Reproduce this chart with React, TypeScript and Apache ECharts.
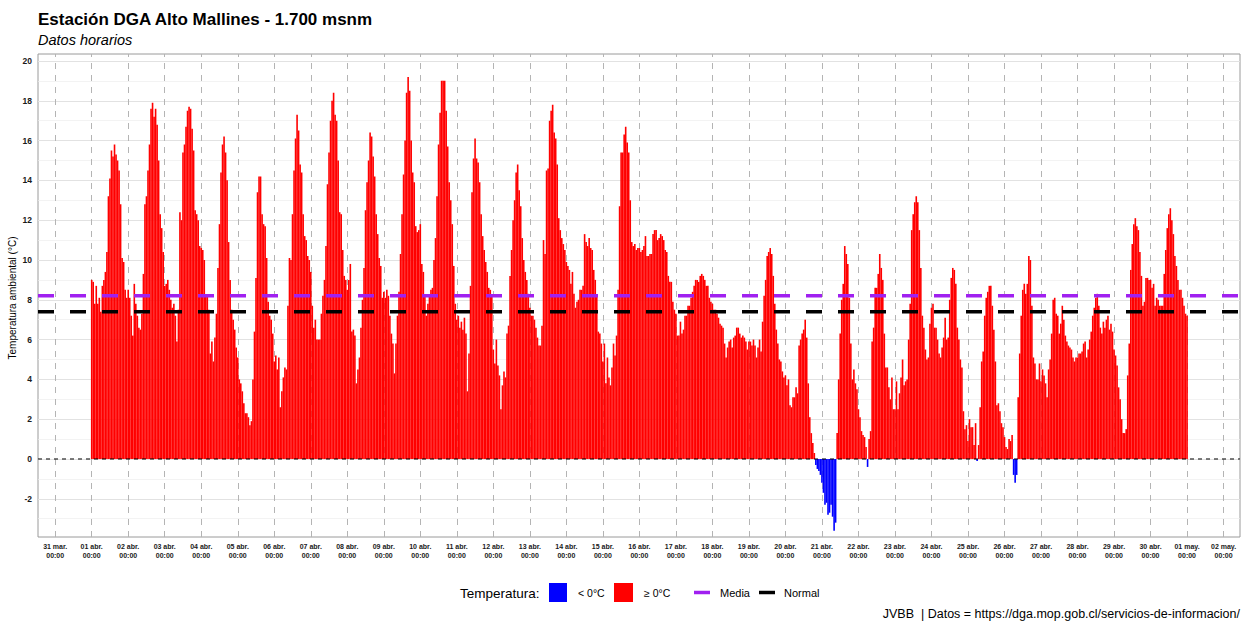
import React, { useEffect, useRef } from "react";
import * as echarts from "echarts";

// Hourly temperature (°C), one array per day of April
const day01 = [9.0, 8.9, 7.8, 8.7, 7.8, 8.1, 7.4, 8.7, 9.0, 9.4, 10.4, 13.2, 14.1, 15.5, 15.2, 15.8, 15.3, 15.0, 14.5, 12.8, 10.1, 9.9, 8.5, 8.1];
const day02 = [8.5, 8.1, 7.2, 6.2, 8.8, 7.8, 7.2, 6.6, 6.5, 7.3, 9.3, 12.8, 13.2, 14.5, 15.8, 17.6, 17.9, 17.2, 17.6, 16.8, 15.0, 12.3, 11.6, 10.4];
const day03 = [8.7, 8.8, 9.0, 8.5, 8.0, 7.6, 7.8, 7.2, 5.9, 7.5, 12.4, 12.0, 15.4, 15.8, 16.7, 17.5, 17.7, 17.6, 16.6, 15.5, 12.5, 12.3, 12.0, 10.7];
const day04 = [10.6, 10.5, 10.0, 8.2, 8.2, 7.5, 5.3, 5.9, 4.9, 6.1, 7.3, 9.6, 11.8, 14.4, 15.8, 16.2, 15.4, 14.0, 10.9, 9.0, 7.5, 7.0, 6.5, 5.6];
const day05 = [5.1, 4.0, 3.8, 3.4, 2.8, 2.3, 2.3, 2.1, 1.7, 1.9, 4.0, 6.4, 9.1, 13.4, 14.2, 14.2, 12.3, 11.8, 11.7, 10.1, 7.9, 7.2, 7.0, 6.3];
const day06 = [4.9, 5.2, 4.5, 5.1, 2.6, 3.4, 4.1, 4.6, 4.5, 7.7, 10.1, 10.0, 12.3, 14.5, 16.1, 17.3, 16.5, 14.8, 14.4, 12.3, 11.2, 11.0, 10.2, 10.0];
const day07 = [9.4, 7.7, 6.6, 7.0, 6.0, 6.0, 6.0, 7.3, 8.2, 9.0, 10.7, 13.8, 15.4, 17.0, 18.0, 18.4, 17.3, 17.0, 15.0, 12.4, 12.3, 10.5, 9.2, 9.0];
const day08 = [8.5, 9.0, 9.8, 6.4, 6.5, 6.2, 3.8, 4.5, 5.1, 6.6, 8.0, 9.6, 12.5, 13.9, 15.0, 16.4, 16.2, 15.2, 14.2, 12.3, 11.3, 10.1, 9.7, 8.1];
const day09 = [8.4, 8.1, 8.5, 8.2, 7.2, 6.3, 5.8, 4.3, 5.8, 7.2, 8.4, 10.3, 12.3, 14.3, 16.0, 18.4, 19.2, 18.5, 16.0, 14.4, 13.9, 11.7, 11.4, 11.5];
const day10 = [11.8, 9.8, 9.4, 8.2, 7.2, 7.8, 8.2, 8.5, 8.6, 10.0, 11.1, 13.2, 15.8, 17.4, 19.0, 19.0, 19.0, 17.5, 15.7, 13.9, 13.0, 11.8, 9.7, 7.8];
const day11 = [7.0, 7.2, 6.6, 6.9, 6.5, 7.1, 6.3, 3.4, 5.3, 8.7, 13.4, 15.1, 16.1, 15.1, 14.9, 13.9, 12.3, 11.2, 10.5, 9.9, 9.4, 8.6, 8.5, 8.2];
const day12 = [5.5, 4.8, 6.0, 4.7, 4.2, 2.5, 3.7, 4.4, 4.1, 6.3, 6.7, 9.2, 10.5, 12.0, 13.0, 14.4, 14.8, 13.5, 12.7, 11.1, 10.0, 9.4, 9.0, 8.3];
const day13 = [7.6, 7.2, 7.2, 7.0, 6.6, 6.1, 5.7, 5.7, 6.7, 11.0, 10.3, 14.5, 14.6, 17.0, 17.5, 17.8, 16.4, 16.1, 14.8, 12.1, 11.5, 11.1, 10.8, 10.5];
const day14 = [9.9, 9.7, 9.5, 8.8, 9.4, 8.3, 7.6, 7.9, 8.0, 8.5, 8.5, 8.7, 11.3, 10.9, 10.7, 11.1, 10.6, 10.5, 9.5, 9.0, 8.2, 6.4, 6.3, 5.8];
const day15 = [4.9, 5.8, 3.8, 5.1, 4.1, 3.7, 4.6, 5.8, 5.2, 6.2, 8.5, 12.7, 15.4, 15.4, 16.3, 16.7, 15.9, 15.4, 13.0, 10.9, 10.7, 10.8, 10.5, 10.6];
const day16 = [10.6, 10.4, 10.5, 10.7, 11.2, 10.2, 10.2, 10.3, 10.3, 11.3, 11.5, 11.5, 11.0, 11.1, 11.3, 11.2, 11.0, 10.5, 10.4, 9.2, 8.9, 8.9, 7.9, 7.5];
const day17 = [7.3, 6.2, 6.2, 6.9, 6.3, 6.5, 7.2, 7.2, 7.7, 7.7, 8.1, 8.4, 8.7, 9.0, 9.0, 8.9, 9.2, 9.3, 9.2, 9.0, 8.7, 8.7, 8.1, 7.9];
const day18 = [7.8, 7.5, 7.5, 7.3, 7.1, 6.8, 6.7, 6.6, 5.8, 5.1, 5.6, 5.9, 6.0, 5.6, 6.1, 6.2, 6.6, 6.6, 6.3, 6.1, 6.2, 6.1, 5.9, 5.5];
const day19 = [5.9, 5.9, 5.7, 6.0, 5.7, 5.1, 5.6, 6.0, 5.4, 6.9, 8.2, 9.0, 10.2, 10.4, 10.6, 10.3, 9.2, 7.8, 6.5, 5.8, 5.0, 4.9, 4.4, 4.1];
const day20 = [4.2, 3.7, 4.0, 2.7, 2.6, 3.1, 3.1, 3.6, 3.3, 5.7, 6.0, 6.3, 6.5, 7.0, 6.1, 3.8, 2.1, 1.3, 0.8, 0.3, -0.3, -0.5, -0.6, -0.8];
const day21 = [-1.2, -1.7, -2.3, -2.2, -2.8, -2.7, -2.3, -2.9, -3.6, -3.2, 1.3, 4.0, 6.3, 8.0, 8.8, 10.7, 10.3, 9.8, 8.1, 5.8, 4.0, 4.5, 3.8, 3.5];
const day22 = [2.5, 2.1, 1.4, 1.2, 1.1, 0.6, -0.4, 1.0, 1.4, 5.9, 6.6, 8.6, 8.6, 9.3, 10.3, 9.6, 9.0, 6.3, 4.6, 4.6, 3.6, 3.0, 4.1, 2.5];
const day23 = [2.5, 3.9, 2.5, 3.3, 4.1, 5.0, 3.7, 3.9, 4.0, 6.0, 7.8, 11.5, 12.3, 12.9, 13.2, 12.9, 11.5, 9.6, 7.2, 6.6, 5.5, 5.0, 5.1, 6.8];
const day24 = [7.6, 7.8, 6.6, 6.6, 6.0, 5.3, 5.1, 5.6, 6.1, 7.1, 6.0, 6.1, 8.0, 9.1, 9.6, 9.5, 8.8, 6.6, 6.0, 5.0, 4.6, 2.4, 1.5, 1.7];
const day25 = [0.9, 2.0, 1.6, 1.6, 0.7, 1.8, -0.1, 0.7, 2.6, 4.9, 5.4, 7.2, 8.1, 8.4, 8.7, 8.7, 7.7, 6.5, 4.9, 2.7, 2.8, 2.4, 1.8, 1.6];
const day26 = [1.1, 0.6, 0.5, 1.0, 0.9, 1.2, -0.8, -1.2, -0.8, 3.1, 5.3, 7.2, 8.5, 8.8, 8.3, 8.8, 10.2, 10.0, 7.7, 5.1, 4.8, 4.0, 4.0, 4.8];
const day27 = [3.9, 4.5, 4.2, 3.8, 3.1, 4.5, 5.0, 6.3, 8.0, 8.1, 7.3, 7.2, 6.3, 6.8, 7.7, 7.0, 6.2, 5.9, 5.7, 5.6, 5.5, 5.1, 4.9, 5.1];
const day28 = [5.1, 5.3, 5.3, 5.4, 5.8, 5.9, 5.1, 5.5, 6.0, 6.4, 7.2, 7.6, 8.1, 8.3, 7.7, 6.6, 6.3, 6.9, 6.6, 7.0, 7.2, 6.5, 6.8, 6.4];
const day29 = [5.5, 5.2, 4.7, 3.6, 3.0, 2.0, 1.3, 1.3, 1.5, 4.2, 5.8, 9.5, 10.8, 11.8, 12.1, 11.7, 11.5, 10.4, 9.2, 7.7, 7.9, 9.1, 9.1, 9.0];
const day30 = [9.0, 8.6, 8.8, 7.7, 8.1, 8.0, 7.7, 7.7, 7.7, 9.3, 10.5, 11.6, 12.3, 12.6, 12.0, 11.3, 10.2, 9.7, 9.0, 8.5, 8.5, 8.1, 7.7, 7.3];
const may01 = [7.2];

const media = 8.2;
const normal = 7.4;

const dayTickLabels = [
  "31 mar.", "01 abr.", "02 abr.", "03 abr.", "04 abr.", "05 abr.", "06 abr.", "07 abr.", "08 abr.",
  "09 abr.", "10 abr.", "11 abr.", "12 abr.", "13 abr.", "14 abr.", "15 abr.", "16 abr.", "17 abr.",
  "18 abr.", "19 abr.", "20 abr.", "21 abr.", "22 abr.", "23 abr.", "24 abr.", "25 abr.", "26 abr.",
  "27 abr.", "28 abr.", "29 abr.", "30 abr.", "01 may.", "02 may.",
];
const yTickValues = [-2, 0, 2, 4, 6, 8, 10, 12, 14, 16, 18, 20];
const yGridValues = [-3, -2, -1, 0, 1, 2, 3, 4, 5, 6, 7, 8, 9, 10, 11, 12, 13, 14, 15, 16, 17, 18, 19, 20];

const FONT = "'Liberation Sans', Arial, Helvetica, sans-serif";

export default function App() {
  const ref = useRef<HTMLDivElement>(null);

  useEffect(() => {
    if (!ref.current) return;
    const chart = echarts.init(ref.current, null, { renderer: "svg" });

    const days = [day01, day02, day03, day04, day05, day06, day07, day08, day09, day10,
      day11, day12, day13, day14, day15, day16, day17, day18, day19, day20,
      day21, day22, day23, day24, day25, day26, day27, day28, day29, day30];
    const temps: number[] = [];
    days.forEach((d) => d.forEach((v) => temps.push(v)));
    may01.forEach((v) => temps.push(v));

    // hour index 0 = 01 abr 00:00
    const posData: [number, number][] = [];
    const negData: [number, number][] = [];
    temps.forEach((v, i) => {
      if (v < 0) negData.push([i, v]);
      else posData.push([i, v]);
    });

    const tickHours = dayTickLabels.map((_, i) => (i - 1) * 24);
    const xMin = -35.3;
    const xMax = 754.8;
    const yMin = -3.92;
    const yMax = 20.35;

    const gridMarks: any[] = [];
    yGridValues.forEach((v) =>
      gridMarks.push({
        yAxis: v,
        lineStyle: { color: v % 2 === 0 ? "#e2e2e2" : "#eeeeee", width: v % 2 === 0 ? 1 : 0.7, type: "solid" },
      })
    );
    tickHours.forEach((h) =>
      gridMarks.push({ xAxis: h, lineStyle: { color: "#b4b4b4", width: 1, type: [6, 6] } })
    );

    const option: any = {
      animation: false,
      textStyle: { fontFamily: FONT },
      grid: {
        left: 38, top: 54, width: 1202, height: 483,
        show: true, borderColor: "#9a9a9a", borderWidth: 1,
        outerBoundsMode: "none",
      },
      xAxis: {
        type: "value",
        min: xMin,
        max: xMax,
        axisLine: { show: false },
        splitLine: { show: false },
        axisTick: { show: true, customValues: tickHours, length: 4, lineStyle: { color: "#333" } },
        axisLabel: {
          customValues: tickHours,
          formatter: (v: number) => {
            const idx = tickHours.indexOf(Math.round(v));
            return idx >= 0 ? "{d|" + dayTickLabels[idx] + "}\n{d|00:00}" : "";
          },
          rich: {
            d: { fontSize: 7, fontWeight: "bold", color: "#1a1a1a", lineHeight: 9, fontFamily: FONT },
          },
          fontSize: 7,
          fontWeight: "bold",
          color: "#1a1a1a",
          lineHeight: 9,
          margin: 5,
          hideOverlap: false,
        },
      },
      yAxis: {
        type: "value",
        min: yMin,
        max: yMax,
        axisLine: { show: false },
        splitLine: { show: false },
        axisTick: { show: true, customValues: yTickValues, length: 4, lineStyle: { color: "#333" } },
        axisLabel: {
          customValues: yTickValues,
          fontSize: 8.5,
          fontWeight: "bold",
          color: "#1a1a1a",
          margin: 6,
        },
      },
      series: [
        {
          type: "line",
          name: "grid",
          data: [],
          silent: true,
          z: 1,
          markLine: {
            silent: true,
            z: 1,
            symbol: ["none", "none"],
            label: { show: false },
            emphasis: { disabled: true },
            data: gridMarks,
          },
        },
        {
          type: "bar",
          name: "≥ 0°C",
          data: posData,
          barWidth: 1.6,
          barGap: "-100%",
          itemStyle: { color: "#ff0000" },
          silent: true,
          z: 2,
        },
        {
          type: "bar",
          name: "< 0°C",
          data: negData,
          barWidth: 1.6,
          barGap: "-100%",
          itemStyle: { color: "#0000ff" },
          silent: true,
          z: 2,
        },
        {
          type: "line",
          name: "Media",
          data: [[xMin, media], [xMax, media]],
          symbol: "none",
          silent: true,
          lineStyle: { color: "#a020f0", width: 3.5, type: [16, 16] },
          z: 4,
        },
        {
          type: "line",
          name: "Normal",
          data: [[xMin, normal], [xMax, normal]],
          symbol: "none",
          silent: true,
          lineStyle: { color: "#000000", width: 3.5, type: [16, 16] },
          z: 4,
        },
        {
          type: "line",
          name: "cero",
          data: [[xMin, 0], [xMax, 0]],
          symbol: "none",
          silent: true,
          lineStyle: { color: "#000000", width: 1, type: [4, 4] },
          z: 5,
        },
      ],
      graphic: [
        {
          type: "text", x: 38, y: 19.5,
          style: { text: "Estación DGA Alto Mallines - 1.700 msnm", fontSize: 17, fontWeight: "bold", fontFamily: FONT, fill: "#000", verticalAlign: "middle" },
        },
        {
          type: "text", x: 38, y: 39.5,
          style: { text: "Datos horarios", fontSize: 14.5, fontStyle: "italic", fontFamily: FONT, fill: "#000", verticalAlign: "middle" },
        },
        {
          type: "text", x: 12, y: 298, rotation: Math.PI / 2,
          style: { text: "Temperatura ambiental (°C)", fontSize: 10, fontFamily: FONT, fill: "#000", align: "center", verticalAlign: "middle" },
        },
        {
          type: "text", x: 460, y: 593,
          style: { text: "Temperatura:", fontSize: 13.5, fontFamily: FONT, fill: "#000", verticalAlign: "middle" },
        },
        { type: "rect", shape: { x: 549, y: 583, width: 18, height: 19 }, style: { fill: "#0000ff" } },
        {
          type: "text", x: 578, y: 593,
          style: { text: "< 0°C", fontSize: 10.5, fontFamily: FONT, fill: "#000", verticalAlign: "middle" },
        },
        { type: "rect", shape: { x: 614, y: 583, width: 19, height: 19 }, style: { fill: "#ff0000" } },
        {
          type: "text", x: 644, y: 593,
          style: { text: "≥ 0°C", fontSize: 10.5, fontFamily: FONT, fill: "#000", verticalAlign: "middle" },
        },
        { type: "line", shape: { x1: 694, y1: 592.5, x2: 710, y2: 592.5 }, style: { stroke: "#a020f0", lineWidth: 3.5 } },
        {
          type: "text", x: 720, y: 593,
          style: { text: "Media", fontSize: 11, fontFamily: FONT, fill: "#000", verticalAlign: "middle" },
        },
        { type: "line", shape: { x1: 759, y1: 592.5, x2: 775, y2: 592.5 }, style: { stroke: "#000000", lineWidth: 3.5 } },
        {
          type: "text", x: 784, y: 593,
          style: { text: "Normal", fontSize: 11, fontFamily: FONT, fill: "#000", verticalAlign: "middle" },
        },
        {
          type: "text", x: 1240, y: 614,
          style: { text: "JVBB  | Datos = https://dga.mop.gob.cl/servicios-de-informacion/", fontSize: 12.5, fontFamily: FONT, fill: "#000", align: "right", verticalAlign: "middle" },
        },
      ],
    };

    chart.setOption(option);
    return () => chart.dispose();
  }, []);

  return (
    <div
      ref={ref}
      style={{ position: "absolute", left: 0, top: 0, width: 1246, height: 621, background: "#fff" }}
    />
  );
}
